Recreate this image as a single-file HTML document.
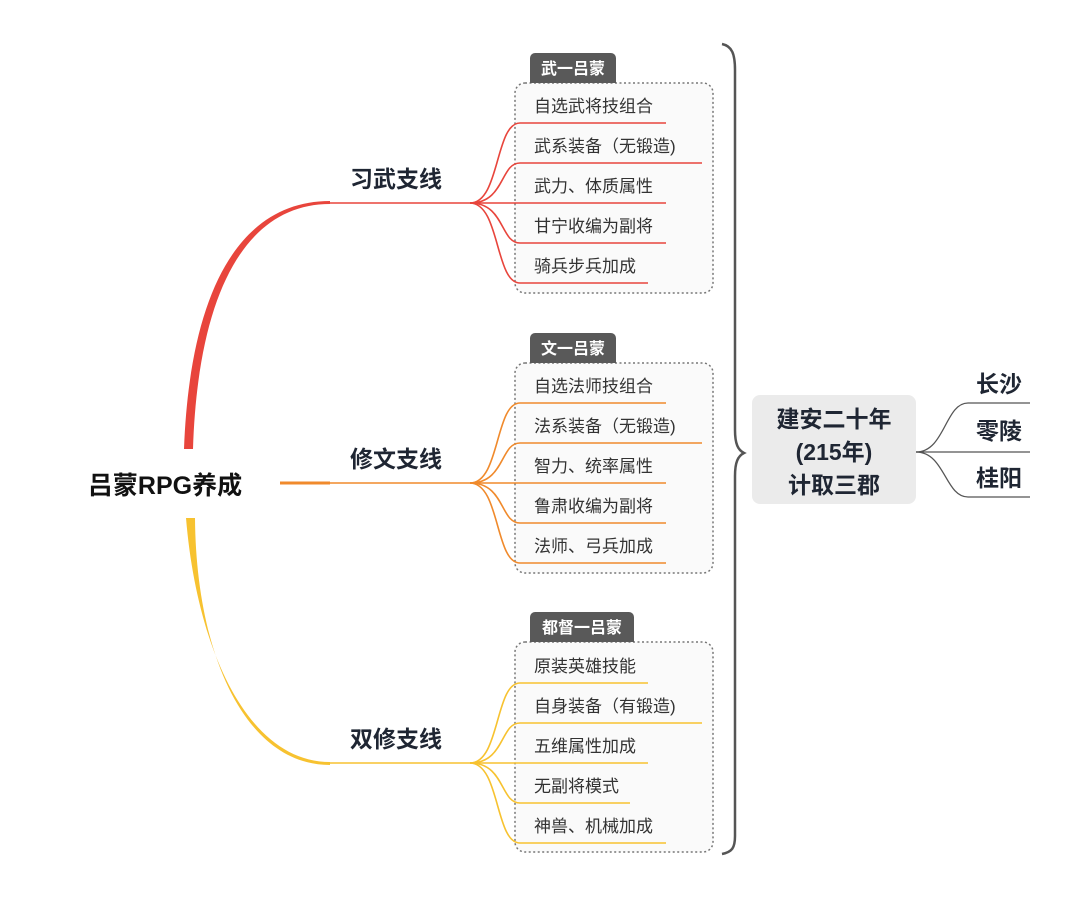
<!DOCTYPE html>
<html><head><meta charset="utf-8"><style>
html,body{margin:0;padding:0;background:#fff;}
svg{display:block;}
text{font-family:"Liberation Sans","Noto Sans CJK SC",sans-serif;}
.b{font-weight:bold;fill:#1f2633;font-size:23px;}
.l{fill:#333;font-size:17px;}
.t{fill:#fff;font-weight:bold;font-size:16px;}
</style></head><body>
<svg width="1080" height="902" viewBox="0 0 1080 902" xmlns="http://www.w3.org/2000/svg">
<rect width="1080" height="902" fill="#fff"/>
<!-- root -->
<text x="165" y="494" text-anchor="middle" font-size="25" font-weight="bold" fill="#111">吕蒙RPG养成</text>
<path d="M184,449 C190,290 240,201 330,201 L330,204 C246,204 198,292 193,449 Z" fill="#e8453c"/>
<path d="M186,518 C197,650 248,762 330,762 L330,765 C244,765 196,652 195,518 Z" fill="#f7c230"/>
<path d="M280,483 L330,483" stroke="#f08a2c" stroke-width="3"/>
<!-- branch lines -->
<line x1="330" y1="203" x2="472" y2="203" stroke="#e8453c" stroke-width="1.5"/>
<line x1="330" y1="483" x2="472" y2="483" stroke="#f08a2c" stroke-width="1.5"/>
<line x1="330" y1="763" x2="472" y2="763" stroke="#f7c230" stroke-width="1.5"/>
<text class="b" x="396" y="187" text-anchor="middle">习武支线</text>
<text class="b" x="396" y="467" text-anchor="middle">修文支线</text>
<text class="b" x="396" y="747" text-anchor="middle">双修支线</text>

<!-- group boxes -->
<g fill="#fafafa" stroke="#777" stroke-width="1.5" stroke-dasharray="2,2.5">
<rect x="515" y="83" width="198" height="210" rx="10"/>
<rect x="515" y="363" width="198" height="210" rx="10"/>
<rect x="515" y="642" width="198" height="210" rx="10"/>
</g>
<g fill="#595959">
<path d="M530,83 V58 a5,5 0 0 1 5,-5 H611 a5,5 0 0 1 5,5 V83 Z"/>
<path d="M530,363 V338 a5,5 0 0 1 5,-5 H611 a5,5 0 0 1 5,5 V363 Z"/>
<path d="M530,642 V617 a5,5 0 0 1 5,-5 H629 a5,5 0 0 1 5,5 V642 Z"/>
</g>
<text class="t" x="573" y="74" text-anchor="middle">武一吕蒙</text>
<text class="t" x="573" y="354" text-anchor="middle">文一吕蒙</text>
<text class="t" x="582" y="633" text-anchor="middle">都督一吕蒙</text>

<!-- group 1 -->
<g fill="none" stroke="#e8453c" stroke-width="1.6">
<path d="M470,203 C500,203 495,123 520,123 H666"/>
<path d="M470,203 C505,203 500,163 520,163 H702"/>
<path d="M470,203 H666"/>
<path d="M470,203 C505,203 500,243 520,243 H666"/>
<path d="M470,203 C500,203 495,283 520,283 H648"/>
</g>
<text x="534" y="112" class="l">自选武将技组合</text>
<text x="534" y="152" class="l">武系装备（无锻造)</text>
<text x="534" y="192" class="l">武力、体质属性</text>
<text x="534" y="232" class="l">甘宁收编为副将</text>
<text x="534" y="272" class="l">骑兵步兵加成</text>
<!-- group 2 -->
<g fill="none" stroke="#f08a2c" stroke-width="1.6">
<path d="M470,483 C500,483 495,403 520,403 H666"/>
<path d="M470,483 C505,483 500,443 520,443 H702"/>
<path d="M470,483 H666"/>
<path d="M470,483 C505,483 500,523 520,523 H666"/>
<path d="M470,483 C500,483 495,563 520,563 H666"/>
</g>
<text x="534" y="392" class="l">自选法师技组合</text>
<text x="534" y="432" class="l">法系装备（无锻造)</text>
<text x="534" y="472" class="l">智力、统率属性</text>
<text x="534" y="512" class="l">鲁肃收编为副将</text>
<text x="534" y="552" class="l">法师、弓兵加成</text>
<!-- group 3 -->
<g fill="none" stroke="#f7c230" stroke-width="1.6">
<path d="M470,763 C500,763 495,683 520,683 H648"/>
<path d="M470,763 C505,763 500,723 520,723 H702"/>
<path d="M470,763 H648"/>
<path d="M470,763 C505,763 500,803 520,803 H630"/>
<path d="M470,763 C500,763 495,843 520,843 H666"/>
</g>
<text x="534" y="672" class="l">原装英雄技能</text>
<text x="534" y="712" class="l">自身装备（有锻造)</text>
<text x="534" y="752" class="l">五维属性加成</text>
<text x="534" y="792" class="l">无副将模式</text>
<text x="534" y="832" class="l">神兽、机械加成</text>

<!-- brace -->
<path d="M722,44 C732,46 735,54 735,70 V430 C735,444 738,450 744,453 C738,456 735,462 735,476 V836 C735,848 732,852 722,854" fill="none" stroke="#555" stroke-width="2.5"/>

<!-- center box -->
<rect x="752" y="395" width="164" height="109" rx="8" fill="#ebebeb"/>
<text x="834" y="427" text-anchor="middle" class="b">建安二十年</text>
<text x="834" y="460" text-anchor="middle" class="b">(215年)</text>
<text x="834" y="493" text-anchor="middle" class="b">计取三郡</text>
<g fill="none" stroke="#555" stroke-width="1.3">
<path d="M916,452 C945,452 945,403 968,403 H1030"/>
<path d="M916,452 H1030"/>
<path d="M916,452 C945,452 945,497 968,497 H1030"/>
</g>
<text x="976" y="392" class="b" font-size="22">长沙</text>
<text x="976" y="439" class="b" font-size="22">零陵</text>
<text x="976" y="486" class="b" font-size="22">桂阳</text>
</svg>
</body></html>
